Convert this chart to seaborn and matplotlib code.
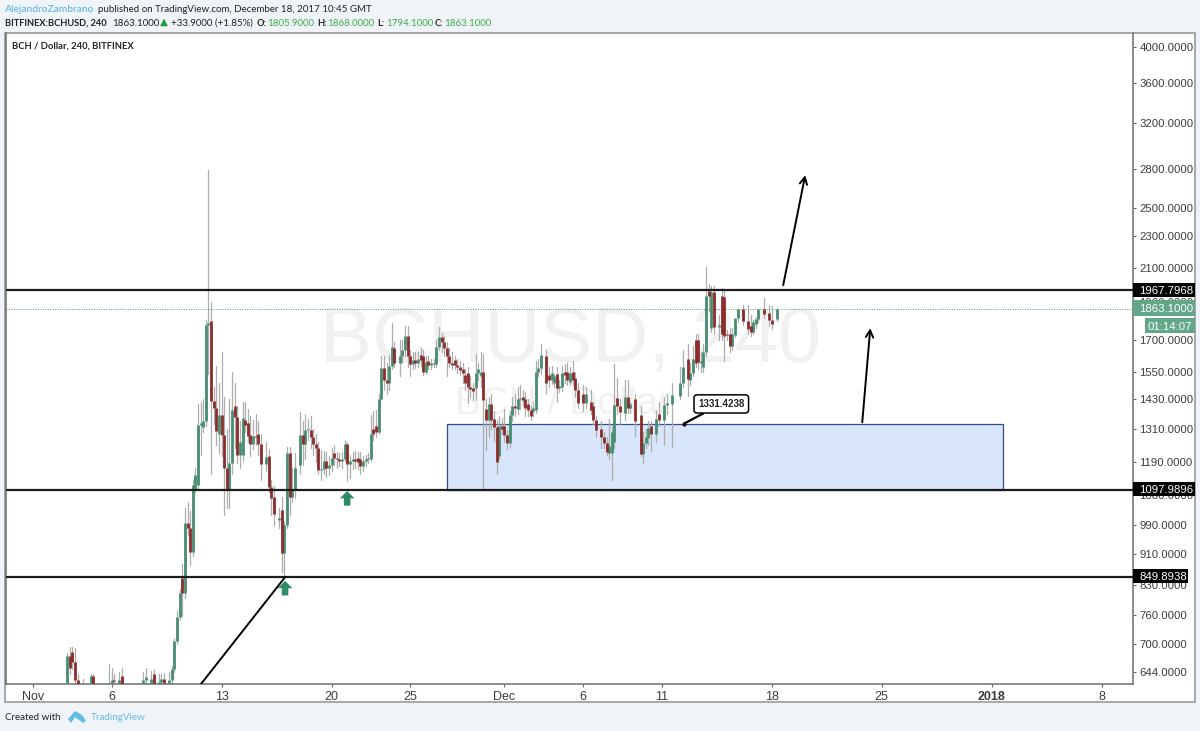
import numpy as np
import pandas as pd
import matplotlib
matplotlib.use("Agg")
import matplotlib.pyplot as plt
import seaborn as sns
from matplotlib.patches import Rectangle, Polygon
from matplotlib.path import Path

# 4h bars counted from Nov 1 00:00
bars = [13,14,15,16,17,19,22,23,25,29, 30,31,33,34,42,43,45,46,48,49,
        50,52,53,54,55,56,57,58,59,60, 61,62,63,64,65,66,67,68,69,70,
        71,72,73,74,75,76,77,78,79,80, 81,82,83,84,85,86,87,89,90,91,
        92,94,95,96,97,98,99,100,102,103, 104,105,106,107,108,109,110,111,112,113,
        114,115,116,117,118,119,120,121,122,123, 124,125,126,127,128,129,130,131,132,133,
        134,135,136,137,138,140,141,142,143,144, 145,146,147,148,149,150,151,152,153,154,
        155,156,157,158,159,160,161,162,163,164, 165,166,167,168,169,170,171,172,173,174,
        175,176,177,178,179,180,181,182,183,184, 185,186,187,188,189,190,191,192,193,194,
        196,197,198,199,200,201,202,203,204,205, 206,207,208,210,211,213,214,215,217,218,
        219,220,221,222,223,224,226,227,228,230, 232,233,234,235,236,238,239,241,242,244,
        247,248,250,251,252,253,254,255,256,257, 258,259,260,262,263,264,265,266,267,268,
        269,271,273,274,275,276,277,279,281,282, 284]
opens = [612,675,682,664,629,605,624,636,610,610, 624,630,622,636,615,630,622,641,608,626,
         632,622,630,650,706,756,848,812,996,982, 915,1100,1112,1326,1317,1340,1777,1795,1422,1394,
         1290,1365,1288,1170,1100,1188,1400,1358,1215,1215, 1345,1333,1288,1254,1285,1290,1254,1184,1210,1105,
         1075,1005,1035,912,990,1220,1075,1095,1178,1287, 1254,1305,1305,1280,1254,1240,1162,1165,1195,1170,
         1178,1222,1205,1200,1195,1200,1254,1184,1195,1200, 1205,1200,1175,1195,1200,1200,1310,1320,1300,1432,
         1567,1512,1500,1575,1660,1590,1620,1650,1720,1620, 1585,1604,1590,1625,1620,1548,1600,1580,1585,1585,
         1665,1715,1690,1660,1620,1590,1605,1580,1570,1560, 1535,1545,1480,1475,1475,1545,1530,1550,1390,1345,
         1410,1350,1318,1210,1320,1320,1287,1258,1365,1400, 1390,1432,1440,1432,1410,1385,1380,1385,1548,1567,
         1620,1535,1510,1500,1540,1478,1480,1550,1548,1505, 1548,1520,1467,1450,1412,1420,1402,1345,1310,1280,
         1258,1220,1220,1260,1436,1400,1375,1440,1395,1430, 1365,1218,1258,1275,1320,1290,1370,1345,1405,1410,
         1445,1500,1610,1510,1545,1700,1700,1590,1570,1640, 1960,1760,1958,1765,1932,1925,1730,1730,1670,1725,
         1810,1860,1795,1770,1740,1780,1805,1862,1840,1800, 1806]
highs = [680,694,694,690,640,632,641,640,624,660, 652,640,645,652,645,652,646,650,640,640,
         642,645,655,712,770,820,884,1040,1060,1030, 1130,1170,1410,1420,1430,1800,2791,1900,1480,1575,
         1500,1640,1440,1310,1430,1550,1500,1400,1340,1420, 1420,1390,1360,1345,1370,1340,1290,1260,1235,1130,
         1110,1040,1075,1000,1245,1245,1170,1220,1377,1340, 1370,1350,1360,1310,1290,1260,1232,1230,1225,1210,
         1240,1250,1225,1220,1225,1270,1262,1215,1225,1230, 1225,1225,1210,1215,1220,1365,1380,1385,1450,1623,
         1623,1590,1625,1785,1690,1700,1700,1770,1770,1650, 1640,1640,1640,1660,1650,1620,1620,1610,1610,1700,
         1766,1735,1720,1690,1660,1640,1620,1610,1600,1590, 1560,1570,1530,1500,1630,1590,1640,1630,1430,1440,
         1450,1380,1345,1360,1355,1390,1305,1380,1440,1450, 1480,1490,1470,1460,1430,1400,1420,1600,1610,1680,
         1650,1570,1575,1540,1570,1510,1575,1585,1590,1570, 1600,1550,1500,1490,1480,1470,1420,1360,1340,1300,
         1280,1350,1320,1585,1520,1430,1510,1510,1420,1450, 1400,1300,1310,1340,1340,1385,1420,1440,1450,1500,
         1570,1650,1680,1590,1670,1730,1730,1640,1680,2102, 2000,1990,1990,1830,1980,1970,1750,1760,1760,1780,
         1835,1885,1880,1830,1800,1810,1830,1920,1885,1875, 1868]
lows = [608,640,650,625,600,598,612,610,600,600, 612,618,615,605,610,622,615,605,600,620,
        615,615,624,645,700,750,758,800,960,880, 905,1090,1100,1215,1300,1320,1540,1150,1330,1250,
        1220,1210,1020,1040,1040,1150,1240,1185,1170,1195, 1300,1260,1210,1235,1250,1215,1130,1160,1090,1020,
        990,980,863,850,980,1020,1060,1070,1150,1180, 1200,1270,1240,1215,1190,1150,1130,1150,1140,1145,
        1160,1180,1170,1175,1170,1195,1125,1135,1165,1170, 1165,1150,1160,1175,1185,1195,1270,1280,1290,1430,
        1470,1450,1470,1560,1570,1530,1590,1620,1570,1530, 1560,1565,1570,1575,1535,1540,1560,1560,1570,1570,
        1650,1640,1620,1530,1570,1560,1560,1545,1535,1500, 1470,1415,1440,1425,1425,1510,1480,1102,1232,1280,
        1310,1265,1150,1200,1290,1260,1235,1245,1340,1360, 1370,1390,1400,1360,1360,1345,1360,1375,1530,1540,
        1450,1480,1495,1480,1420,1460,1465,1500,1490,1490, 1490,1440,1395,1380,1395,1370,1330,1280,1240,1240,
        1214,1200,1130,1240,1370,1330,1345,1375,1375,1285, 1210,1185,1240,1250,1230,1260,1320,1250,1370,1245,
        1430,1480,1445,1490,1530,1570,1560,1550,1550,1620, 1850,1740,1730,1700,1700,1600,1700,1640,1650,1715,
        1790,1775,1730,1720,1730,1760,1790,1810,1770,1755, 1794]
closes = [675,651,664,629,612,612,636,622,615,624, 630,628,630,612,630,634,632,612,626,632,
          624,630,650,706,756,812,812,996,982,915, 1112,1145,1326,1335,1340,1777,1787,1422,1394,1303,
          1365,1288,1170,1100,1188,1385,1358,1215,1260,1355, 1325,1284,1254,1285,1280,1254,1184,1208,1105,1070,
          1022,1010,912,990,1220,1075,1095,1170,1287,1254, 1305,1310,1280,1254,1240,1162,1165,1195,1170,1178,
          1205,1205,1200,1195,1200,1254,1184,1195,1200,1195, 1190,1175,1195,1200,1205,1290,1290,1300,1432,1567,
          1512,1500,1575,1665,1590,1620,1650,1720,1620,1585, 1604,1590,1610,1605,1548,1595,1580,1590,1590,1665,
          1715,1690,1660,1620,1590,1580,1580,1570,1555,1543, 1500,1480,1472,1465,1545,1560,1550,1425,1345,1410,
          1345,1318,1190,1320,1310,1287,1258,1365,1400,1395, 1432,1435,1425,1395,1385,1360,1395,1548,1567,1625,
          1500,1510,1545,1530,1475,1485,1545,1535,1510,1545, 1510,1467,1412,1412,1450,1385,1345,1305,1280,1258,
          1225,1248,1300,1405,1400,1377,1440,1395,1410,1340, 1218,1258,1280,1314,1290,1350,1345,1405,1412,1447,
          1500,1570,1515,1545,1610,1590,1595,1600,1640,1930, 1930,1958,1765,1775,1730,1720,1725,1670,1730,1810,
          1862,1795,1755,1740,1790,1805,1862,1835,1800,1780, 1863]

y_ticks = [4000,3600,3200,2800,2500,2300,2100,1900,1700,1550,1430,1310,1190,1080,990,910,830,760,700,644]
x_tick_days = [0,5,12,19,24,30,35,40,47,54,61,68]
x_tick_labels = ["Nov","6","13","20","25","Dec","6","11","18","25","2018","8"]
levels = [1967.7968, 1097.9896, 849.8938]
last_price = 1863.1
zone_top = 1331.4238

GREEN = "#478d70"
RED = "#8a2c2a"
BG = "#f0f3f7"

W, H = 1200, 731
def px(x, y):
    return x / W, 1 - y / H

sns.set_theme(style="white")
plt.rcParams["font.family"] = ["Liberation Sans", "DejaVu Sans"]
fig = plt.figure(figsize=(12, 7.31), dpi=100, facecolor=BG)

# white card round the chart and price scale
fig.add_artist(Rectangle(px(5, 702), 1190 / W, 669 / H, transform=fig.transFigure,
                         fc="white", ec="#999999", lw=1.2, zorder=-1))
ax = fig.add_axes([6 / W, 1 - 684 / H, 1127 / W, 651 / H])
ax.patch.set_alpha(0)
ax.set_yscale("log")
ax.set_xlim(-1.72, 70.0)
ax.set_ylim(622, 4168)

# watermarks
ax.text(34.2, 1690, "BCHUSD, 240", fontsize=56, color="#f1f1f1", ha="center", va="center", zorder=0)
ax.text(33.7, 1410, "BCH / Dollar", fontsize=28, color="#f1f1f1", ha="center", va="center", zorder=0)

df = pd.DataFrame({"bar": bars, "open": opens, "high": highs, "low": lows, "close": closes})
df["day"] = df["bar"] / 6
df["dir"] = np.where(df["close"] >= df["open"], "up", "down")

wicks = df.melt(id_vars=["bar", "day"], value_vars=["high", "low"], value_name="price")
bodies = df.melt(id_vars=["bar", "day", "dir"], value_vars=["open", "close"], value_name="price")

zone = Rectangle((26.35, levels[1]), 35.39, zone_top - levels[1], fc="#d8e5fa", ec="#2f4c8c", lw=0.9, zorder=1)
ax.add_patch(zone)

sns.lineplot(data=wicks, x="day", y="price", units="bar", estimator=None, color="#adadad",
             lw=0.9, legend=False, ax=ax, zorder=2)
sns.lineplot(data=bodies, x="day", y="price", units="bar", hue="dir", estimator=None,
             palette={"up": GREEN, "down": RED}, lw=2.0, legend=False, ax=ax, zorder=3,
             solid_capstyle="butt")

for lv in levels:
    ax.axhline(lv, color="#1c1c1c", lw=1.6, zorder=4)
ax.axhline(last_price, color="#4d9a78", lw=0.7, ls=(0, (1, 1.5)), zorder=2)

# trend line and arrows
ax.plot([10.69, 16.04], [622, 850], color="black", lw=1.4, zorder=5)
for start, end in [((47.74, 1995), (49.14, 2751)), ((52.77, 1336), (53.28, 1759))]:
    ax.annotate("", xy=end, xytext=start, zorder=5,
                arrowprops=dict(arrowstyle="->,head_length=0.42,head_width=0.22", color="black", lw=1.4,
                                shrinkA=0, shrinkB=0))

up_arrow = Path([(-1, 0), (0, 1), (1, 0), (0.45, 0), (0.45, -1), (-0.45, -1), (-0.45, 0), (-1, 0)], closed=True)
marks = pd.DataFrame({"day": [19.99, 16.04], "price": [1070, 823]})
sns.scatterplot(data=marks, x="day", y="price", marker=up_arrow, s=110, color="#2e8b62",
                edgecolor="none", legend=False, ax=ax, zorder=5)

# price callout
ax.annotate("1331.4238", xy=(41.44, zone_top), xytext=(43.8, 1410), fontsize=7, fontweight="bold",
            color="#222222", ha="center", va="center", zorder=6,
            bbox=dict(boxstyle="round,pad=0.42,rounding_size=0.3", fc="white", ec="black", lw=1.1),
            arrowprops=dict(arrowstyle="-", color="black", lw=1.6, shrinkA=0, shrinkB=0))
ax.plot([41.44], [zone_top], marker="o", ms=2, color="black", zorder=6)

# axes
ax.spines["top"].set_visible(False)
for side in ["left", "right", "bottom"]:
    ax.spines[side].set_color("#6e6e6e")
    ax.spines[side].set_linewidth(1.1)
ax.yaxis.tick_right()
ax.set_yticks(y_ticks)
ax.set_yticklabels([f"{t:.4f}" for t in y_ticks])
ax.minorticks_off()
ax.set_xticks(x_tick_days)
ax.set_xticklabels(x_tick_labels)
ax.tick_params(axis="y", length=2, width=0.8, color="#666666", labelsize=8.2, labelcolor="#3c3c3c", pad=2.5, right=True)
ax.tick_params(axis="x", length=2, width=0.8, color="#666666", labelsize=9, labelcolor="#3c3c3c", pad=3, bottom=True)
ax.set_xlabel("")
ax.set_ylabel("")
for lab in ax.get_xticklabels():
    if lab.get_text() == "2018":
        lab.set_fontweight("bold")

# price scale tags
def tag(y0, y1, x0, x1, color, text, tx=1139):
    fig.add_artist(Rectangle(px(x0, y1), (x1 - x0) / W, (y1 - y0) / H, transform=fig.transFigure,
                             fc=color, ec="none", zorder=10))
    fig.text(*px(tx, (y0 + y1) / 2), text, color="white", fontsize=8.2,
             ha="left", va="center_baseline", zorder=11)

tag(283, 297, 1133, 1195, "black", "1967.7968")
tag(482, 496, 1133, 1195, "black", "1097.9896")
tag(569, 583, 1133, 1188, "black", "849.8938")
tag(300, 316, 1133, 1195, "#62a888", "1863.1000")
tag(318, 333, 1145, 1195, "#62a888", "01:14:07", tx=1148)

# header
HF = ["Lato", "DejaVu Sans"]
def head(x, y, s, color="#222222", weight="normal", size=7.0):
    fig.text(*px(x, y), s, color=color, fontsize=size, fontweight=weight, family=HF, va="center", ha="left")

head(5, 9, "AlejandroZambrano", color="#55b2e6", size=7.4)
head(98, 9, "published on TradingView.com, December 18, 2017 10:45 GMT")
head(5, 23, "BITFINEX:BCHUSD, 240", weight="bold", size=6.7)
head(112, 23, "1863.1000")
fig.text(*px(160, 22), "\u25b2", color="#1f9d3a", fontsize=7.5, family=["DejaVu Sans"], va="center", ha="left")
head(171, 23, "+33.9000 (+1.85%)")
for x, s in [(257, "O:"), (317, "H:"), (377, "L:"), (435, "C:")]:
    head(x, 23, s, weight="bold", size=6.7)
for x, s in [(267, "1805.9000"), (327, "1868.0000"), (386, "1794.1000"), (444, "1863.1000")]:
    head(x, 23, s, color="#3fae4a")
head(12, 46, "BCH / Dollar, 240, BITFINEX", weight="bold", size=6.8)

# footer
head(5, 717, "Created with")
head(91, 717, "TradingView", color="#62bde6", size=7.1)
logo = [(68, 719), (75, 711), (79, 713), (82, 715), (86, 721), (83, 723), (79, 720), (75, 717), (71, 723)]
fig.add_artist(Polygon([px(x, y) for x, y in logo], closed=True, transform=fig.transFigure, fc="#62bde6", ec="none"))

fig.savefig("out.png", dpi=100, facecolor=BG)
